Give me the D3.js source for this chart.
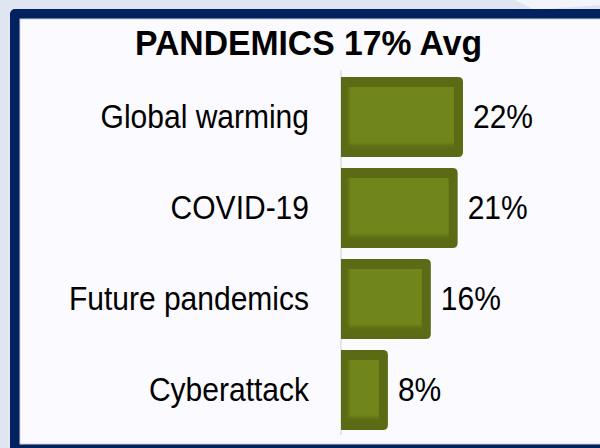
<!DOCTYPE html>
<html>
<head>
<meta charset="utf-8">
<script src="https://cdn.jsdelivr.net/npm/d3@7"></script>
<style>
  html, body { margin: 0; padding: 0; background: #dfe6f2; }
  svg { display: block; }
</style>
</head>
<body>
<div id="chart"></div>
<script>
// Survey results: share of respondents per concern
const categories = ["Global warming", "COVID-19", "Future pandemics", "Cyberattack"];
const values = [22, 21, 16, 8];
const valueLabels = ["22%", "21%", "16%", "8%"];
const title = "PANDEMICS 17% Avg";

const W = 600, H = 448;
const FONT = "Liberation Sans, Arial, sans-serif";
const svg = d3.select("#chart").append("svg")
  .attr("width", W).attr("height", H);

const defs = svg.append("defs");
defs.append("filter").attr("id", "soft")
  .attr("x", "-20%").attr("y", "-20%").attr("width", "140%").attr("height", "140%")
  .append("feGaussianBlur").attr("stdDeviation", 1.6);

// page background with a faint highlight in the top-right
svg.append("rect").attr("width", W).attr("height", H).attr("fill", "#dfe6f2");
svg.append("path")
  .attr("d", "M515,0 L600,0 L600,5 C585,6 560,8 535,10 Z")
  .attr("fill", "#f3f6fb").attr("opacity", 0.95);

// navy frame and panel
svg.append("rect").attr("x", 10).attr("y", 9).attr("width", 610).attr("height", 460)
  .attr("rx", 5).attr("fill", "#02215f");
svg.append("rect").attr("x", 20).attr("y", 19).attr("width", 590).attr("height", 425)
  .attr("fill", "#fbfaff").attr("stroke", "#cfd2dc").attr("stroke-width", 1);

// scales
const x = d3.scaleLinear().domain([0, 22]).range([345, 463]);
const y = d3.scaleBand().domain(categories).range([77, 430])
  .paddingInner(11 / 91).paddingOuter(0);

// tall, slightly narrow lettering: keep the advance width of `base` px type
// while drawing glyphs at `size` px
function narrowText(sel, base, size) {
  sel.attr("font-family", FONT).attr("font-size", base);
  sel.each(function () {
    const len = this.getComputedTextLength();
    d3.select(this).attr("font-size", size)
      .attr("textLength", len).attr("lengthAdjust", "spacingAndGlyphs");
  });
}

// title
svg.append("text")
  .attr("x", 308.5).attr("y", 55)
  .attr("text-anchor", "middle")
  .attr("font-family", FONT)
  .attr("font-weight", "bold")
  .attr("font-size", 35)
  .attr("textLength", 347).attr("lengthAdjust", "spacingAndGlyphs")
  .attr("fill", "#000")
  .text(title);

// baseline axis
svg.append("line")
  .attr("x1", 341).attr("x2", 341)
  .attr("y1", 70).attr("y2", 435)
  .attr("stroke", "#d6d6de").attr("stroke-width", 1.2);

// category axis labels (no tick marks, no domain line)
const yAxis = d3.axisLeft(y).tickSize(0).tickPadding(0);
const gy = svg.append("g").attr("transform", "translate(309,0)").call(yAxis);
gy.select(".domain").remove();
gy.selectAll("text")
  .attr("fill", "#000")
  .attr("dy", "0.33em")
  .call(narrowText, 30, 34);

// bars: rounded dark olive frame with a lighter inset panel
const r = 5;
function outerPath(d) {
  const x0 = x(0) - 4, x1 = x(d.v), y0 = y(d.c), y1 = y0 + y.bandwidth();
  return `M${x0},${y0} H${x1 - r} Q${x1},${y0} ${x1},${y0 + r} V${y1 - r} Q${x1},${y1} ${x1 - r},${y1} H${x0} Z`;
}
const data = categories.map((c, i) => ({ c, v: values[i], label: valueLabels[i] }));

const bars = svg.append("g").selectAll("g").data(data).join("g");

bars.append("path").attr("d", outerPath).attr("fill", "#5b6a14");

bars.each(function (d, i) {
  const g = d3.select(this);
  const ix0 = x(0) + 1, ix1 = x(d.v) - 9;
  const iy0 = y(d.c) + 10, iy1 = y(d.c) + y.bandwidth() - 9.5;
  const id = "clip" + i;
  defs.append("clipPath").attr("id", id)
    .append("rect").attr("x", ix0).attr("y", iy0)
    .attr("width", ix1 - ix0).attr("height", iy1 - iy0);
  g.append("rect").attr("x", ix0).attr("y", iy0)
    .attr("width", ix1 - ix0).attr("height", iy1 - iy0)
    .attr("fill", "#70861b");
  // soft inner shading along the left and bottom edges
  g.append("g").attr("clip-path", `url(#${id})`)
    .append("path")
    .attr("d", `M${ix0 - 3},${iy0 - 3} H${ix0 + 3} V${iy1 - 3} H${ix1 + 3} V${iy1 + 3} H${ix0 - 3} Z`)
    .attr("fill", "#55640f").attr("opacity", 0.75)
    .attr("filter", "url(#soft)");
});

// value labels
bars.append("text")
  .attr("x", d => x(d.v) + 10)
  .attr("y", d => y(d.c) + y.bandwidth() / 2)
  .attr("dy", "0.33em")
  .attr("fill", "#000")
  .text(d => d.label)
  .call(narrowText, 30, 34);
</script>
</body>
</html>
